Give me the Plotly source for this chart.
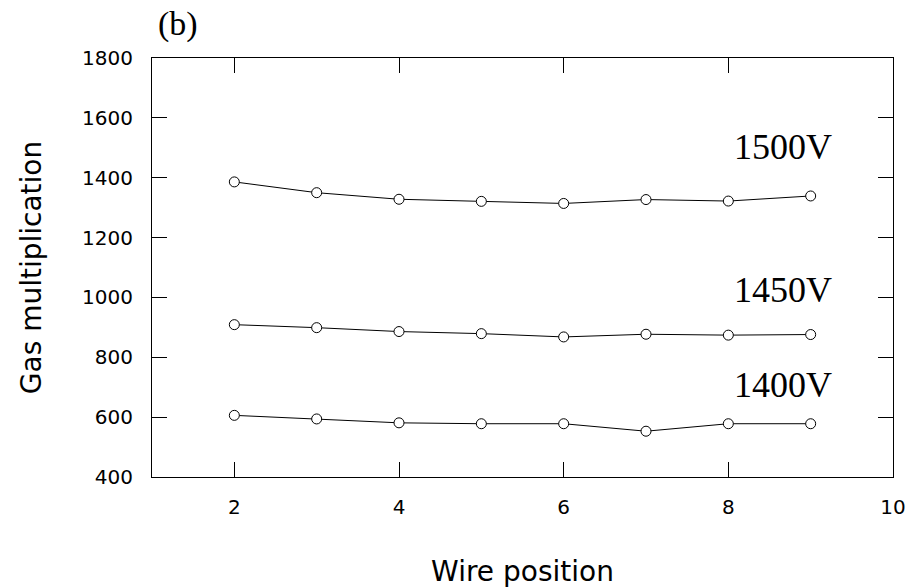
import plotly.graph_objects as go

wire_position = [2, 3, 4, 5, 6, 7, 8, 9]
gain_1500v = [1386, 1350, 1328, 1321, 1314, 1327, 1322, 1339]
gain_1450v = [909, 899, 886, 879, 868, 877, 874, 876]
gain_1400v = [606, 594, 581, 578, 578, 553, 578, 578]

series = [("1500V", gain_1500v, 8.66, 1503),
          ("1450V", gain_1450v, 8.66, 1025),
          ("1400V", gain_1400v, 8.66, 706)]

x_ticks = [2, 4, 6, 8, 10]
y_ticks = [400, 600, 800, 1000, 1200, 1400, 1600, 1800]

fig = go.Figure()
for name, vals, lx, ly in series:
    fig.add_trace(go.Scatter(
        x=wire_position, y=vals, mode="lines+markers", name=name,
        line=dict(color="black", width=1),
        marker=dict(symbol="circle", size=10, color="white",
                    line=dict(color="black", width=1)),
        showlegend=False))
    fig.add_annotation(x=lx, y=ly, text=name, showarrow=False,
                       xref="x", yref="y", xanchor="center", yanchor="middle",
                       font=dict(family="Liberation Serif", size=36, color="black"))

fig.add_annotation(x=0.035, y=1.081, xref="paper", yref="paper", text="(b)",
                   showarrow=False, xanchor="center", yanchor="middle",
                   font=dict(family="Liberation Serif", size=34, color="black"))

axis_common = dict(showline=True, linecolor="black", linewidth=1, mirror="ticks",
                   ticks="inside", ticklen=15, tickcolor="black", tickwidth=1,
                   showgrid=False, zeroline=False,
                   tickfont=dict(family="DejaVu Sans", size=20, color="black"))

fig.update_xaxes(range=[1, 10], tickvals=x_ticks, ticktext=[str(v) for v in x_ticks],
                 ticklabelstandoff=12,
                 title=dict(text="Wire position", standoff=44,
                            font=dict(family="DejaVu Sans", size=28, color="black")),
                 **axis_common)
fig.update_yaxes(range=[400, 1800], tickvals=y_ticks, ticktext=[str(v) for v in y_ticks],
                 ticklabelstandoff=14,
                 title=dict(text="Gas multiplication", standoff=32,
                            font=dict(family="DejaVu Sans", size=28, color="black")),
                 **axis_common)

fig.update_layout(width=912, height=588, plot_bgcolor="white", paper_bgcolor="white",
                  margin=dict(l=152, r=19, t=58, b=111, autoexpand=False))

fig.write_html("out.html", config={"displayModeBar": False},
               post_script="document.body.style.margin='0';document.body.style.overflow='hidden';")
